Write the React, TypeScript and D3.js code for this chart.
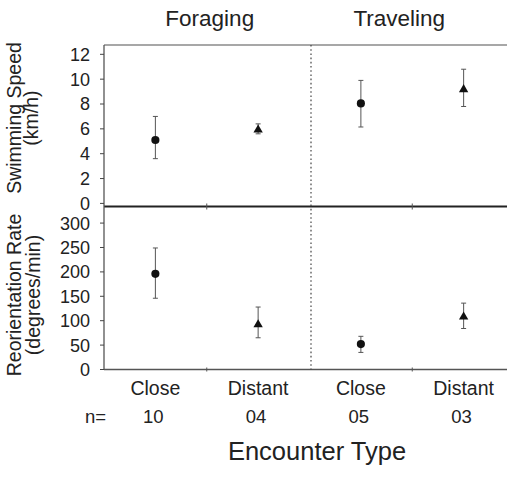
import * as d3 from "d3";

// encounter categories (foraging pair, then traveling pair)
const categoryKeys = ["F-Close", "F-Distant", "T-Close", "T-Distant"];
const categoryLabels = ["Close", "Distant", "Close", "Distant"];
const sampleSizes = ["10", "04", "05", "03"];
const markerShapes = ["circle", "triangle", "circle", "triangle"];
const behaviourGroups = ["Foraging", "Traveling"];

// swimming speed (km/h)
const speedMean = [5.1, 6.0, 8.05, 9.25];
const speedLow = [3.6, 5.6, 6.15, 7.8];
const speedHigh = [7.0, 6.4, 9.9, 10.8];
const speedTicks = [0, 2, 4, 6, 8, 10, 12];

// reorientation rate (degrees/min)
const rateMean = [196, 94, 52, 110];
const rateLow = [146, 65, 35, 84];
const rateHigh = [249, 128, 68, 136];
const rateTicks = [0, 50, 100, 150, 200, 250, 300];

const W = 507,
  H = 477;
const left = 104,
  right = 515,
  top = 45,
  mid = 206.5,
  bottom = 369.5;
const font = "'Liberation Sans', Arial, sans-serif";
const ink = "#222";

export default function App() {
  const x = d3.scaleBand().domain(categoryKeys).range([left, right]).padding(0);
  const ySpeed = d3.scaleLinear().domain([-0.25, 12.75]).range([mid, top]);
  const yRate = d3.scaleLinear().domain([0, 334]).range([bottom, mid]);

  const symbol = (shape: string) =>
    d3
      .symbol()
      .type(shape === "circle" ? d3.symbolCircle : d3.symbolTriangle)
      .size(shape === "circle" ? 52 : 38)()!;

  const panel = (
    y: d3.ScaleLinear<number, number>,
    means: number[],
    lows: number[],
    highs: number[],
    ticks: number[]
  ) => (
    <g>
      {ticks.map((t) => (
        <g key={t} transform={`translate(${left},${y(t)})`}>
          <line x1={-4} x2={0} stroke="#444" strokeWidth={1} />
          <text x={-14} dy="0.36em" textAnchor="end" fontSize={18} fill={ink}>
            {t}
          </text>
        </g>
      ))}
      {categoryKeys.map((k, i) => {
        const cx = x(k)! + x.bandwidth() / 2;
        return (
          <g key={k}>
            <line
              x1={cx}
              x2={cx}
              y1={y(lows[i])}
              y2={y(highs[i])}
              stroke="#555"
              strokeWidth={1}
            />
            {[lows[i], highs[i]].map((v, j) => (
              <line
                key={j}
                x1={cx - 2.5}
                x2={cx + 2.5}
                y1={y(v)}
                y2={y(v)}
                stroke="#555"
                strokeWidth={1}
              />
            ))}
            <path
              d={symbol(markerShapes[i])}
              transform={`translate(${cx},${y(means[i]) + (markerShapes[i] === "triangle" ? 1 : 0)})`}
              fill="#111"
            />
          </g>
        );
      })}
    </g>
  );

  const boundaries = categoryKeys.slice(1).map((k) => x(k)!);
  const groupCenters = [
    (x(categoryKeys[0])! + x(categoryKeys[1])! + x.bandwidth()) / 2 + 3,
    (x(categoryKeys[2])! + x(categoryKeys[3])! + x.bandwidth()) / 2 - 13,
  ];

  return (
    <svg
      width={W}
      height={H}
      style={{ position: "absolute", left: 0, top: 0, background: "#fff" }}
      fontFamily={font}
    >
      {/* frame */}
      <line x1={left} x2={W} y1={top} y2={top} stroke="#8a8a8a" strokeWidth={1.3} />
      <line x1={left} x2={W} y1={mid} y2={mid} stroke="#222" strokeWidth={2} />
      <line x1={left} x2={W} y1={bottom} y2={bottom} stroke="#555" strokeWidth={1.3} />
      <line x1={left} x2={left} y1={top} y2={bottom} stroke="#555" strokeWidth={1.3} />
      {/* group divider */}
      <line
        x1={boundaries[1] + 1.5}
        x2={boundaries[1] + 1.5}
        y1={top}
        y2={bottom}
        stroke="#444"
        strokeWidth={1.2}
        strokeDasharray="1.6,2.6"
      />
      {[boundaries[0], boundaries[2]].map((b, i) => (
        <g key={i}>
          <line x1={b} x2={b} y1={mid - 3} y2={mid + 3} stroke="#555" />
          <line x1={b} x2={b} y1={bottom - 2} y2={bottom + 2} stroke="#555" />
        </g>
      ))}

      {panel(ySpeed, speedMean, speedLow, speedHigh, speedTicks)}
      {panel(yRate, rateMean, rateLow, rateHigh, rateTicks)}

      {/* y titles */}
      <g transform={`rotate(-90) translate(${-118},0)`} textAnchor="middle" fontSize={19.5} fill={ink}>
        <text y={21}>Swimming Speed</text>
        <text y={38}>(km/h)</text>
      </g>
      <g transform={`rotate(-90) translate(${-295},0)`} textAnchor="middle" fontSize={19.5} fill={ink}>
        <text y={20.5}>Reorientation Rate</text>
        <text y={39.5}>(degrees/min)</text>
      </g>

      {/* group titles */}
      {behaviourGroups.map((g, i) => (
        <text key={g} x={groupCenters[i]} y={26} textAnchor="middle" fontSize={22.5} fill={ink}>
          {g}
        </text>
      ))}

      {/* category labels and n */}
      {categoryKeys.map((k, i) => {
        const cx = x(k)! + x.bandwidth() / 2;
        return (
          <g key={k} textAnchor="middle" fontSize={19.5} fill={ink}>
            <text x={cx} y={395}>
              {categoryLabels[i]}
            </text>
            <text x={cx - 2} y={423} fontSize={18.5}>
              {sampleSizes[i]}
            </text>
          </g>
        );
      })}
      <text x={85} y={423} fontSize={18.5} fill={ink}>
        n=
      </text>

      <text x={317} y={460} textAnchor="middle" fontSize={25.5} fill={ink}>
        Encounter Type
      </text>
    </svg>
  );
}
